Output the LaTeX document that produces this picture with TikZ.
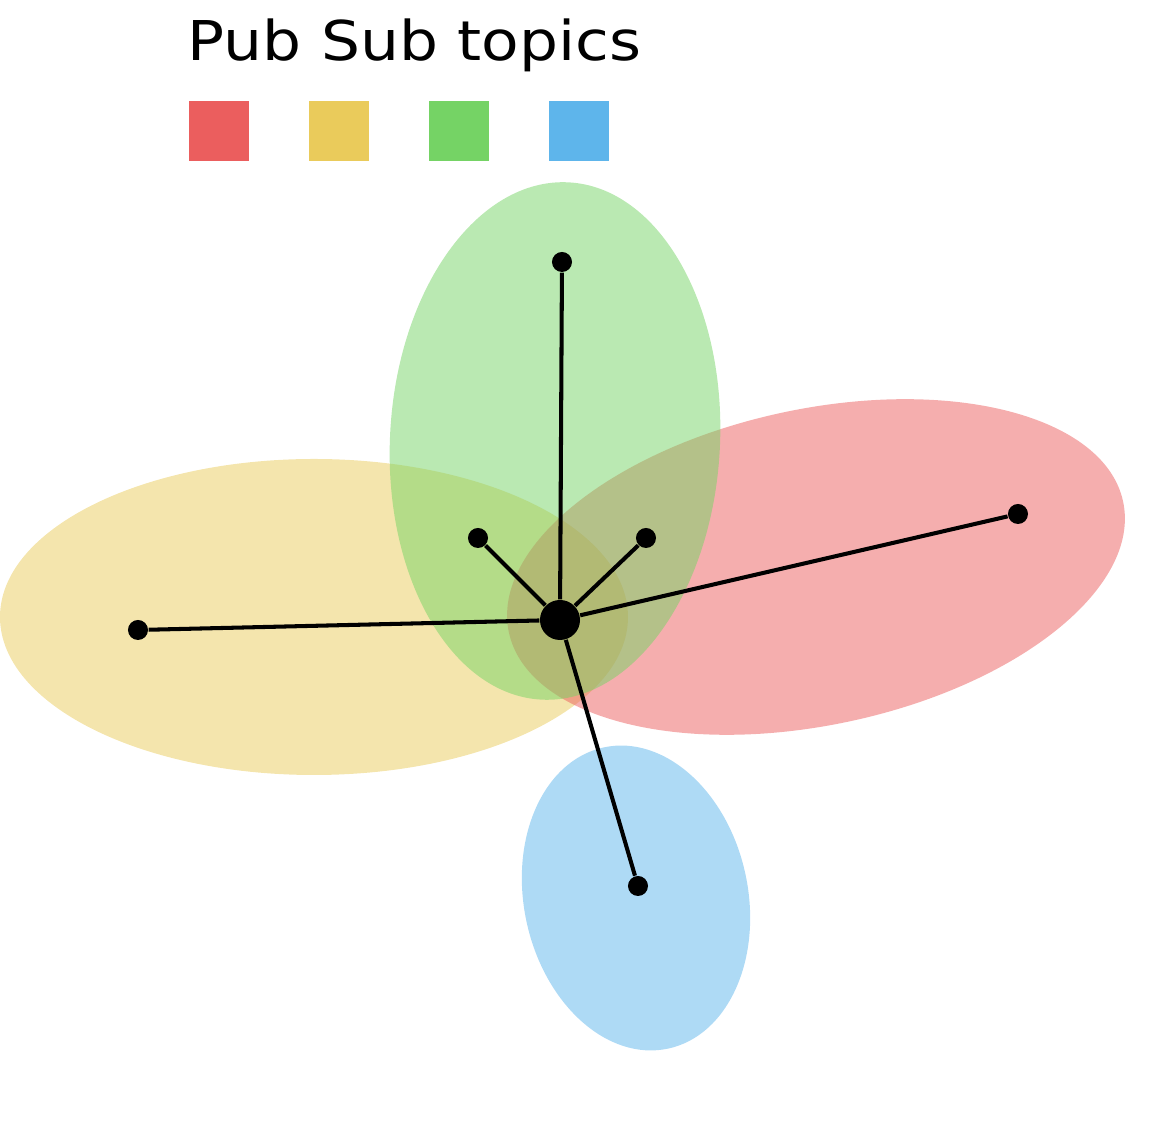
\documentclass[tikz,border=0pt]{standalone}
\usepackage{fontspec}
\newfontfamily\titlefont[FakeStretch=1.12]{DejaVu Sans}
\definecolor{topicred}{HTML}{EB5E5E}
\definecolor{topicyellow}{HTML}{EACB5B}
\definecolor{topicgreen}{HTML}{75D365}
\definecolor{topicblue}{HTML}{5EB5EB}
\tikzset{
  topic/.style={fill=#1,fill opacity=0.5},
  swatch/.style={fill=#1,minimum size=0.6cm,inner sep=0pt,anchor=north west},
  dot/.style={circle,fill=black,inner sep=0pt,minimum size=0.2cm},
  hubdot/.style={dot,minimum size=0.4cm},
  link/.style={line width=1.15pt}
}

\begin{document}
\begin{tikzpicture}[x=0.01cm,y=-0.01cm]
    \useasboundingbox (0,0) rectangle (1156,1128);
    % legend
    \node[anchor=base west,inner sep=0pt,font=\titlefont\fontsize{15.6}{18}\selectfont] (title) at (187,61) {Pub Sub topics};
    \node[swatch=topicred]    (keyred)    at (188,100) {};
    \node[swatch=topicyellow] (keyyellow) at (308,100) {};
    \node[swatch=topicgreen]  (keygreen)  at (428,100) {};
    \node[swatch=topicblue]   (keyblue)   at (548,100) {};
    % topics
    \fill[topic=topicyellow] (314,617) ellipse [x radius=314, y radius=158];
    \fill[topic=topicred, rotate around={12:(816,567)}] (816,567) ellipse [x radius=314, y radius=158];
    \fill[topic=topicgreen, rotate around={-3:(555,441)}] (555,441) ellipse [x radius=165, y radius=259];
    \fill[topic=topicblue, rotate around={12:(636,898)}] (636,898) ellipse [x radius=112, y radius=154];
    % subscribers
    \node[hubdot] (hub) at (560,620) {};
    \node[dot] (subgreen)  at (562,262) {};
    \node[dot] (subyg)     at (478,538) {};
    \node[dot] (subrg)     at (646,538) {};
    \node[dot] (subred)    at (1018,514) {};
    \node[dot] (subyellow) at (138,630) {};
    \node[dot] (subblue)   at (638,886) {};
    \foreach \s in {subgreen,subyg,subrg,subred,subyellow,subblue}
        \draw[link] (hub) -- (\s);
\end{tikzpicture}
\end{document}
